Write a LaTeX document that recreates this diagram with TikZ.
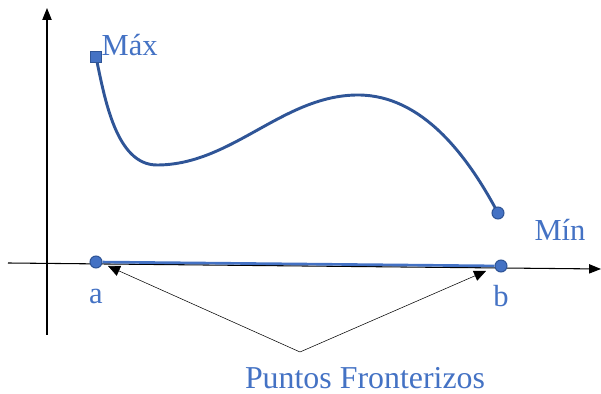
\documentclass[tikz,border=0pt]{standalone}
\usepackage{fontspec}
\setmainfont{Liberation Serif}
\newfontfamily\lblfont{Liberation Serif}
\usetikzlibrary{arrows.meta,positioning}
\definecolor{lblblue}{HTML}{4472C4}
\definecolor{curveblue}{HTML}{2F5597}

\begin{document}
\begin{tikzpicture}[x=0.0264583cm, y=-0.0264583cm, every node/.style={font=\lblfont\fontsize{23}{27}\selectfont, text=lblblue}]
\tikzset{axis/.style={thick, -{Triangle[length=9pt, width=7pt]}}}
\tikzset{pt/.style={draw=curveblue, fill=lblblue, circle, inner sep=0pt, minimum size=9pt, line width=0.8pt}}
\tikzset{sqpt/.style={draw=curveblue, fill=lblblue, rectangle, inner sep=0pt, minimum size=8pt, line width=0.8pt}}
\tikzset{curve/.style={curveblue, line width=2.2pt}}
\tikzset{pointer/.style={thin, -{Triangle[length=9pt, width=8pt]}}}
\useasboundingbox (0,0) rectangle (601,394);
% axes
\coordinate (yo) at (47,335);
\coordinate (yt) at (47,8);
\coordinate (xo) at (8,263);
\coordinate (xt) at (601,269);
\draw[axis] (yo) -- (yt);
\draw[axis] (xo) -- (xt);
% interval
\node[pt] (a) at (96,262) {};
\node[pt] (b) at (501,266) {};
\draw[lblblue, line width=2pt] (a) -- (b);
\node[below=12pt of a] (alab) {a};
\node[below=6pt of b] (blab) {b};
% curve
\coordinate (maxpt) at (96,57);
\coordinate (minpt) at (498,213);
\draw[curve] (maxpt) to[out=-78, in=180, looseness=0.85] (157,165)
  to[out=0, in=180, looseness=0.9] (358,95)
  to[out=0, in=118, looseness=0.9] (minpt);
\node[sqpt] (mx) at (maxpt) {};
\node[pt] (mn) at (minpt) {};
\node[anchor=west] (maxlab) at (97,45) {Máx};
\node (minlab) at (560,230) {Mín};
% pointers
\coordinate (fork) at (300,352);
\coordinate (tipa) at (108,266);
\coordinate (tipb) at (486,271);
\draw[pointer] (fork) -- (tipa);
\draw[pointer] (fork) -- (tipb);
\node[font=\lblfont\fontsize{24}{28}\selectfont] (pflab) at (365,378) {Puntos Fronterizos};
\end{tikzpicture}
\end{document}
